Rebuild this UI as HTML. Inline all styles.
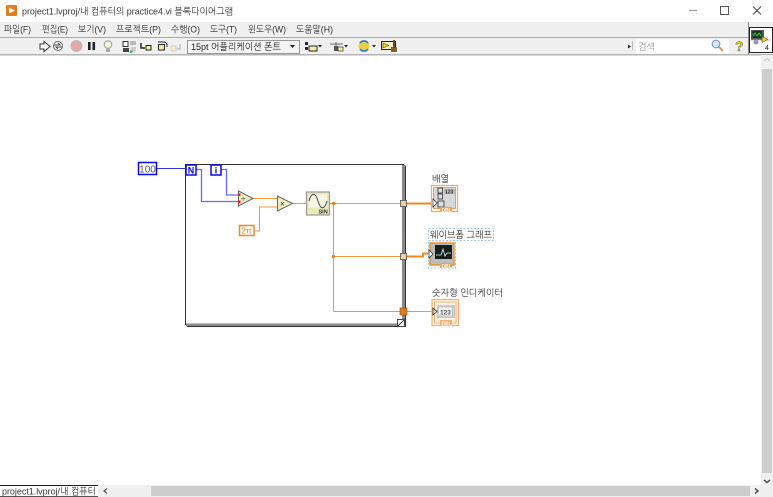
<!DOCTYPE html>
<html><head><meta charset="utf-8"><style>
html,body{margin:0;padding:0;background:#fff;width:773px;height:497px;overflow:hidden}
svg{display:block}
text{font-family:"Liberation Sans","NanumGothic","Noto Sans CJK KR",sans-serif}
</style></head><body>
<svg width="773" height="497" viewBox="0 0 773 497" xmlns="http://www.w3.org/2000/svg">
<rect width="773" height="497" fill="#fff"/>
<!-- title bar -->
<rect x="6" y="5" width="11" height="11" rx="1" fill="#e87b1c"/>
<polygon points="9,7.5 15,10.5 9,13.5" fill="#fff"/>
<text x="22" y="14.5" font-size="9.5" fill="#333" textLength="211" lengthAdjust="spacingAndGlyphs">project1.lvproj/내 컴퓨터의 practice4.vi 블록다이어그램</text>
<path d="M689 10.5H697" stroke="#999" stroke-width="1.2"/>
<rect x="720.5" y="6.5" width="8" height="8" fill="none" stroke="#555"/>
<path d="M753 6.5l8 8M761 6.5l-8 8" stroke="#444"/>
<!-- menu -->
<rect x="0" y="22" width="773" height="15" fill="#f0f0f0"/>
<g font-size="9.5" fill="#333">
<text x="4" y="32.5" textLength="27" lengthAdjust="spacingAndGlyphs">파일(F)</text>
<text x="42" y="32.5" textLength="26" lengthAdjust="spacingAndGlyphs">편집(E)</text>
<text x="78" y="32.5" textLength="28" lengthAdjust="spacingAndGlyphs">보기(V)</text>
<text x="116" y="32.5" textLength="45" lengthAdjust="spacingAndGlyphs">프로젝트(P)</text>
<text x="171" y="32.5" textLength="29" lengthAdjust="spacingAndGlyphs">수행(O)</text>
<text x="210" y="32.5" textLength="27" lengthAdjust="spacingAndGlyphs">도구(T)</text>
<text x="248" y="32.5" textLength="38" lengthAdjust="spacingAndGlyphs">윈도우(W)</text>
<text x="296" y="32.5" textLength="37" lengthAdjust="spacingAndGlyphs">도움말(H)</text>
</g>
<!-- toolbar -->
<rect x="0" y="37" width="773" height="17" fill="#f0f0f0"/>
<rect x="0" y="37" width="748" height="1" fill="#a8a8a8"/>
<rect x="0" y="54" width="773" height="1.5" fill="#b4b4b4"/>
<polygon points="40,44 44,44 44,41.5 50,46.500 44,51.500 44,49 40,49" fill="#fff" stroke="#333"/>
<circle cx="58" cy="46" r="4.500" fill="#fff" stroke="#666"/>
<path d="M54 45h6l-2-2M62 47h-6l2 2" stroke="#444" fill="none"/>
<circle cx="76.500" cy="46" r="5.500" fill="#e6a8a8" stroke="#bbb"/>
<rect x="88" y="42" width="2.600" height="8" fill="#222"/>
<rect x="92.500" y="42" width="2.600" height="8" fill="#222"/>
<circle cx="108" cy="44.500" r="3.800" fill="#f6f4dc" stroke="#999"/>
<rect x="106" y="48" width="4" height="4" fill="#aaa"/>
<rect x="123" y="41.500" width="5" height="5" fill="#fff" stroke="#333"/>
<rect x="130" y="41" width="6" height="4" fill="#bbb"/>
<rect x="123" y="48" width="6" height="4" fill="#444"/>
<rect x="131" y="47" width="5" height="4" fill="#ccc"/>
<polygon points="130,50 134,52 130,53" fill="#3a6"/>
<path d="M141 43v5h4" stroke="#222" stroke-width="1.500" fill="none"/>
<rect x="146" y="45.500" width="5" height="4.500" fill="#f4f0a0" stroke="#222"/>
<rect x="158.500" y="44.500" width="6" height="5.500" fill="#f4f0a0" stroke="#222"/>
<path d="M158 42h7l2 2v3" stroke="#222" fill="none"/>
<rect x="171" y="46" width="5" height="5" fill="#f4f0c0" stroke="#ccc"/>
<path d="M177 49h3v-5" stroke="#aaa" fill="none"/>
<rect x="187.500" y="40.500" width="112" height="13" fill="#f4f4f4" stroke="#999"/>
<text x="191" y="50" font-size="9.500" fill="#222" textLength="90" lengthAdjust="spacingAndGlyphs">15pt 어플리케이션 폰트</text>
<polygon points="290,45 295,45 292.500,48" fill="#222"/>
<rect x="305" y="42" width="3" height="3" fill="#225"/>
<rect x="305" y="47" width="3" height="3" fill="#225"/>
<rect x="309" y="46" width="8" height="5" fill="#f4f0a0" stroke="#222"/>
<polygon points="318,45 322,45 320,47.500" fill="#222"/>
<path d="M330 44h13M336 42v4" stroke="#666"/>
<rect x="334" y="46" width="4" height="5" fill="#555"/>
<rect x="338" y="47" width="5" height="4" fill="#f4f0a0" stroke="#333" stroke-width=".7"/>
<polygon points="344,45 348,45 346,47.500" fill="#222"/>
<circle cx="364" cy="46" r="5.500" fill="#e8d040"/>
<path d="M360 43a5 5 0 0 1 8 0M368 49a5 5 0 0 1-8 0" stroke="#3a78c8" stroke-width="1.800" fill="none"/>
<polygon points="372,45 376,45 374,47.500" fill="#222"/>
<rect x="381.500" y="41.500" width="14" height="8" fill="#f6f2c0" stroke="#222"/>
<polygon points="383,43 389,45.500 383,48" fill="#e8d020" stroke="#333" stroke-width=".5"/>
<rect x="391" y="47" width="6" height="5" fill="#85602a"/>
<rect x="393" y="40" width="2" height="8" fill="#6a4a20"/>
<polygon points="628,44.500 631,46.500 628,48.500" fill="#222"/>
<rect x="632" y="41" width="1" height="9" fill="#bbb"/>
<rect x="636" y="39.500" width="93" height="14" fill="#fff"/>
<text x="638" y="50" font-size="9.500" fill="#999" textLength="17" lengthAdjust="spacingAndGlyphs">검색</text>
<circle cx="716" cy="44" r="3.800" fill="#d7e6f2" stroke="#7aa0c0" stroke-width="1.200"/>
<path d="M719 47l4 4" stroke="#c8a060" stroke-width="2"/>
<text x="735" y="51" font-size="14" font-weight="bold" fill="#d8c400" stroke="#666" stroke-width=".4">?</text>
<rect x="748" y="22" width="1" height="33" fill="#888"/>
<rect x="749.500" y="27.500" width="23" height="25" fill="#fff" stroke="#222"/>
<rect x="751" y="30" width="13" height="10" fill="#555"/>
<rect x="752.500" y="31" width="9" height="7" fill="#0c3a18"/>
<path d="M753 36l2-3 2 3 2-3 2 3" stroke="#5e5" stroke-width=".7" fill="none"/>
<circle cx="756" cy="42" r="2.500" fill="#8898c8"/>
<path d="M751 40h22" stroke="#d8a0a0" stroke-width=".8"/>
<polygon points="762,36.500 768,39.500 762,42.500" fill="#e0d820" stroke="#333" stroke-width=".5"/>
<text x="765" y="50" font-size="7" fill="#222">4</text>
<!-- scrollbars -->
<rect x="761" y="55" width="12" height="442" fill="#f0f0f0"/>
<rect x="762" y="69" width="10" height="404" fill="#cdcdcd"/>
<path d="M764 480l3 2.500 3-2.500" stroke="#555" stroke-width="1.500" fill="none"/>
<path d="M764 61l3-2.500 3 2.500" stroke="#ccc" stroke-width="1.200" fill="none"/>
<rect x="0" y="485" width="761" height="12" fill="#f0f0f0"/>
<rect x="151" y="486" width="599" height="10" fill="#cdcdcd"/>
<path d="M107 488.500l-3 2.500 3 2.500" stroke="#555" stroke-width="1.200" fill="none"/>
<path d="M755 488.500l3 2.500-3 2.500" stroke="#555" stroke-width="1.500" fill="none"/>
<rect x="0" y="485" width="98" height="12" fill="#fff"/>
<rect x="0" y="485" width="98" height="1" fill="#222"/>
<rect x="0" y="496" width="98" height="1" fill="#555"/>
<text x="2" y="494.500" font-size="9.500" fill="#333" textLength="94" lengthAdjust="spacingAndGlyphs">project1.lvproj/내 컴퓨터</text>
<!-- for loop -->
<rect x="185.500" y="164.500" width="218" height="160" fill="#fff" stroke="#333"/>
<path d="M403.500 165v160H186" stroke="#8a8a8a" stroke-width="3" fill="none"/>
<path d="M405.500 165.500v161H187" stroke="#333" fill="none"/>
<rect x="397.500" y="319.500" width="7" height="7" fill="#fff" stroke="#444"/>
<path d="M398 326l6-6" stroke="#333"/>
<!-- blue wires -->
<path d="M156 168.500H186" stroke="#3434e0" stroke-width="1"/>
<path d="M196 169.500h5.500v32H239" stroke="#6a6af0" stroke-width="1.300" fill="none"/>
<path d="M221 169.500h5.500v25.500H239" stroke="#6a6af0" stroke-width="1.300" fill="none"/>
<!-- constant 100 -->
<rect x="138.500" y="162.500" width="18" height="12" fill="#fff" stroke="#0a0ae0" stroke-width="1.500"/>
<text x="147.500" y="172.500" font-size="10" fill="#555" text-anchor="middle">100</text>
<!-- N / i -->
<rect x="186" y="165" width="10" height="10" fill="#fff" stroke="#0a0ad8" stroke-width="1.500"/>
<text x="191" y="173.500" font-size="9" font-weight="bold" fill="#0a0ad8" text-anchor="middle">N</text>
<rect x="211" y="165" width="10" height="10" fill="#fff" stroke="#0a0ad8" stroke-width="1.500"/>
<text x="216" y="173.500" font-size="9" font-weight="bold" fill="#0a0ad8" text-anchor="middle">i</text>
<!-- orange wires -->
<path d="M253 198.500H277" fill="none" stroke="#f09a3c" stroke-width="1"/>
<path d="M254 231h5.500v-24H277" fill="none" stroke="#f09a3c" stroke-width="1"/>
<path d="M292 203.500H306" fill="none" stroke="#f09a3c" stroke-width="1"/>
<path d="M329 203.500H401" fill="none" stroke="#f09a3c" stroke-width="1"/>
<path d="M333.500 203.500V311.500" fill="none" stroke="#f09a3c" stroke-width="1"/>
<path d="M333.500 311.500H401" fill="none" stroke="#f09a3c" stroke-width="1"/>
<path d="M333.500 256.500H401" fill="none" stroke="#f09a3c" stroke-width="1"/>
<path d="M406 311.500H433" fill="none" stroke="#f09a3c" stroke-width="1"/>
<path d="M406 203.500H432" stroke="#f08a20" stroke-width="2"/>
<path d="M406 256.500H423V253.500H428" stroke="#f08a20" stroke-width="2" fill="none"/>
<circle cx="333.500" cy="203.500" r="1.600" fill="#f07a10"/>
<circle cx="333.500" cy="256.500" r="1.600" fill="#f07a10"/>
<!-- primitives -->
<polygon points="238.500,191 253,198.500 238.500,206" fill="#eeeec4" stroke="#666"/>
<text x="241" y="201.500" font-size="8" fill="#222">÷</text>
<rect x="238" y="193.500" width="2.500" height="2.500" fill="#e02020"/>
<rect x="238" y="200.500" width="2.500" height="2.500" fill="#e02020"/>
<polygon points="277.500,196 292.500,203.500 277.500,211" fill="#eeeec4" stroke="#666"/>
<text x="280" y="206.500" font-size="8" fill="#222">×</text>
<rect x="239.500" y="225.500" width="14.500" height="10" fill="#fff" stroke="#f08a20" stroke-width="1.500"/>
<text x="246.500" y="233.500" font-size="8.500" fill="#e08a30" text-anchor="middle">2π</text>
<rect x="306.500" y="192" width="23" height="23" fill="#e8e8b8" stroke="#999" stroke-width="1.200"/>
<rect x="309" y="194.500" width="18" height="13" fill="#f6f6e4"/>
<path d="M309 201c2.500-9 6.500-9 9 0s6.500 9 9 0" stroke="#444" fill="none"/>
<text x="318.500" y="213.500" font-size="5.500" font-weight="bold" fill="#333">SIN</text>
<!-- tunnels -->
<rect x="400.500" y="200.500" width="6" height="6" fill="#f3d29a" stroke="#666"/>
<rect x="400.500" y="253.500" width="6" height="6" fill="#f3d29a" stroke="#666"/>
<rect x="400" y="308" width="7" height="7" fill="#ee7a10" stroke="#555" stroke-width=".6"/>
<!-- array indicator -->
<text x="432" y="182" font-size="9.500" fill="#333" textLength="17" lengthAdjust="spacingAndGlyphs">배열</text>
<rect x="431.500" y="185.500" width="26" height="26" fill="#fff" stroke="#f4a860" stroke-width="1.200"/>
<rect x="433.500" y="187.500" width="22" height="21" fill="#d8d8d8" stroke="#f08a20" stroke-width=".8"/>
<rect x="438" y="188" width="4.500" height="5" fill="#ddd" stroke="#333" stroke-width=".8"/>
<rect x="438" y="194" width="4.500" height="5" fill="#ddd" stroke="#333" stroke-width=".8"/>
<rect x="438" y="201" width="6" height="6" fill="#ddd" stroke="#333" stroke-width=".8"/>
<rect x="444" y="189" width="11" height="5" fill="#bbb"/>
<text x="445" y="193.500" font-size="5" font-weight="bold" fill="#333">123</text>
<polygon points="433,199 437,203 433,207" fill="#fff" stroke="#222" stroke-width=".7"/>
<rect x="440" y="207" width="12" height="5" fill="#f0a050"/>
<text x="441.500" y="212" font-size="5" font-weight="bold" fill="#fff">DBL</text>
<!-- waveform graph -->
<rect x="428.500" y="228.500" width="65" height="12" fill="#fff" stroke="#a8cce8" stroke-dasharray="2 1.500"/>
<text x="430" y="238" font-size="9.500" fill="#333" textLength="62" lengthAdjust="spacingAndGlyphs">웨이브폼 그래프</text>
<rect x="428.500" y="241" width="27" height="27" fill="#fff" stroke="#a8cce8" stroke-dasharray="2 1.500"/>
<rect x="430" y="243" width="24" height="22" fill="#bdbdbd" stroke="#f08a20" stroke-width="1.400"/>
<rect x="435" y="245" width="17" height="14" fill="#14201c"/>
<path d="M436 255l5 0 2-6 2 7 2-3 4 0" stroke="#e8f0e8" stroke-width=".8" fill="none"/>
<polygon points="429,250 433,254 429,258" fill="#fff" stroke="#222" stroke-width=".7"/>
<rect x="440" y="263" width="12" height="5" fill="#f0a050"/>
<text x="441.500" y="268" font-size="5" font-weight="bold" fill="#fff">DBL</text>
<!-- numeric indicator -->
<text x="432" y="296" font-size="9.500" fill="#333" textLength="71" lengthAdjust="spacingAndGlyphs">숫자형 인디케이터</text>
<rect x="432" y="299.500" width="26.500" height="26" fill="#fff3e6" stroke="#f4b070" stroke-width="1.200"/>
<rect x="434.500" y="302" width="21.500" height="21" fill="none" stroke="#f4b070"/>
<rect x="437" y="305" width="18" height="13" fill="#c8c8c8"/>
<rect x="439" y="307.500" width="13" height="8" fill="#f2f2f2"/>
<text x="440" y="314.500" font-size="6.500" font-weight="bold" fill="#555">123</text>
<polygon points="433,308 437,311.500 433,315" fill="#fff" stroke="#222" stroke-width=".8"/>
<rect x="440" y="320" width="12" height="5.500" fill="#f4b070"/>
<text x="441.500" y="325.500" font-size="5" font-weight="bold" fill="#fff">DBL</text>
</svg>
</body></html>
